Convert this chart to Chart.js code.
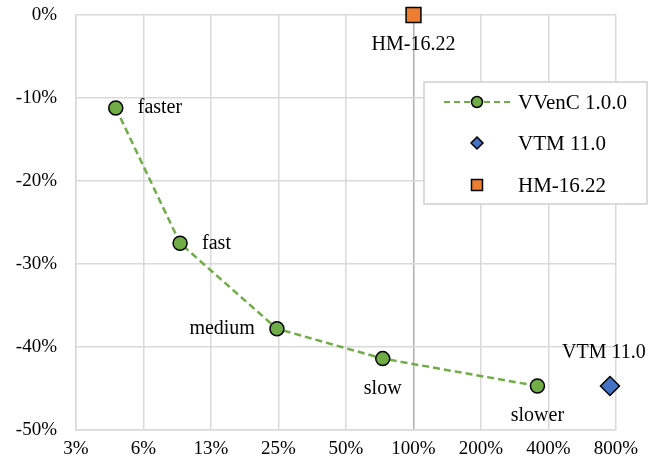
<!DOCTYPE html>
<html>
<head>
<meta charset="utf-8">
<script src="https://cdn.jsdelivr.net/npm/chart.js@4/dist/chart.umd.min.js"></script>
<style>
html,body{margin:0;padding:0;background:#fff;}
#wrap{width:672px;height:466px;}
</style>
</head>
<body>
<div id="wrap"><canvas id="rdChart"></canvas></div>
<script>
// DATA

const presets=["faster","fast","medium","slow","slower"];
const vvencTime=[4.7,9.1,24.6,72.9,357];
const vvencBD=[-11.2,-27.5,-37.8,-41.4,-44.7];

const vtmTime=[752];
const vtmBD=[-44.7];

const hmTime=[100];
const hmBD=[0];

const xTicks=[3.125,6.25,12.5,25,50,100,200,400,800];
const xTickLabels=["3%","6%","13%","25%","50%","100%","200%","400%","800%"];
const yTicks=[0,-10,-20,-30,-40,-50];

const FONT="'Liberation Serif','Times New Roman',serif";

// point labels: where the text sits next to each point
const labelPlace={
faster:"right",fast:"right",medium:"left",slow:"below",slower:"below",
"VTM 11.0":"above","HM-16.22":"below"
};

function pts(xs,ys){
return xs.map((x,i)=>({x:x,y:ys[i]}));
}

const pointLabels={
id:"pointLabels",
afterDatasetsDraw(chart){
const ctx=chart.ctx;
ctx.save();
ctx.font="20px "+FONT;
ctx.fillStyle="#000";
chart.data.datasets.forEach((ds,di)=>{
const meta=chart.getDatasetMeta(di);
meta.data.forEach((el,i)=>{
const txt=ds.pointNames[i];
const place=labelPlace[txt];
let x=el.x,y=el.y;
if(place==="right"){ctx.textAlign="left";ctx.textBaseline="middle";x+=22;}
else if(place==="left"){ctx.textAlign="right";ctx.textBaseline="middle";x-=22;}
else if(place==="below"){ctx.textAlign="center";ctx.textBaseline="middle";y+=30;}
else{ctx.textAlign="center";ctx.textBaseline="middle";y-=33;x-=6;}
ctx.fillText(txt,x,y);
});
});
ctx.restore();
}
};

const boxLegend={
id:"boxLegend",
afterDraw(chart){
const ctx=chart.ctx;
const a=chart.chartArea;
const bx=a.left+348,by=a.top+67,bw=223,bh=122;
ctx.save();
ctx.fillStyle="#fff";
ctx.fillRect(bx,by,bw,bh);
ctx.strokeStyle="#d0d0d0";
ctx.lineWidth=1.5;
ctx.strokeRect(bx,by,bw,bh);
const rows=[20,61,103];
chart.data.datasets.forEach((ds,i)=>{
const cy=by+rows[i];
const mx=bx+53;
if(ds.showLine){
ctx.save();
ctx.strokeStyle=ds.borderColor;
ctx.lineWidth=2;
ctx.setLineDash([6,4]);
ctx.beginPath();
ctx.moveTo(bx+20,cy);
ctx.lineTo(bx+88,cy);
ctx.stroke();
ctx.restore();
}
ctx.fillStyle=ds.pointBackgroundColor;
ctx.strokeStyle="#000";
ctx.lineWidth=1.5;
ctx.beginPath();
if(ds.pointStyle==="circle"){
ctx.arc(mx,cy,5.5,0,Math.PI*2);
}else if(ds.pointStyle==="rectRot"){
ctx.moveTo(mx,cy-6);ctx.lineTo(mx+6,cy);ctx.lineTo(mx,cy+6);ctx.lineTo(mx-6,cy);ctx.closePath();
}else{
ctx.rect(mx-5.5,cy-5.5,11,11);
}
ctx.fill();
ctx.stroke();
ctx.font="21px "+FONT;
ctx.fillStyle="#000";
ctx.textAlign="left";
ctx.textBaseline="middle";
ctx.fillText(ds.label,bx+94,cy+1);
});
ctx.restore();
}
};

// RD CHART

new Chart(document.getElementById("rdChart"),{

type:"scatter",

data:{

datasets:[{
label:"VVenC 1.0.0",
data:pts(vvencTime,vvencBD),
pointNames:presets,
showLine:true,
clip:false,
borderColor:"#70AD47",
borderWidth:2.5,
borderDash:[7,4],
pointStyle:"circle",
pointRadius:7,
pointBackgroundColor:"#70AD47",
pointBorderColor:"#000",
pointBorderWidth:1.5
},{
label:"VTM 11.0",
data:pts(vtmTime,vtmBD),
pointNames:["VTM 11.0"],
clip:false,
pointStyle:"rectRot",
pointRadius:9.5,
pointBackgroundColor:"#4472C4",
pointBorderColor:"#000",
pointBorderWidth:1.5
},{
label:"HM-16.22",
data:pts(hmTime,hmBD),
pointNames:["HM-16.22"],
clip:false,
pointStyle:"rect",
pointRadius:10.5,
pointBackgroundColor:"#ED7D31",
pointBorderColor:"#000",
pointBorderWidth:1.5
}]

},

options:{

responsive:true,
maintainAspectRatio:false,
animation:false,
layout:{autoPadding:false,padding:{top:15,right:56,left:0,bottom:0}},

plugins:{
legend:{display:false},
tooltip:{enabled:false}
},

scales:{
x:{
type:"logarithmic",
min:3.125,
max:800,
afterBuildTicks(scale){
scale.ticks=xTicks.map(v=>({value:v}));
},
afterFit(scale){scale.height=36;},
ticks:{
autoSkip:false,
maxRotation:0,
padding:8,
color:"#000",
font:{family:FONT,size:19},
callback:(v,i)=>xTickLabels[i]
},
grid:{
drawTicks:false,
lineWidth:1.5,
color:c=>(c.tick&&c.tick.value===100)?"#b0b0b0":"#d9d9d9"
},
border:{color:"#d9d9d9",width:1.5}
},
y:{
min:-50,
max:0,
afterBuildTicks(scale){
scale.ticks=yTicks.map(v=>({value:v}));
},
afterFit(scale){scale.width=76;},
ticks:{
padding:0,
color:"#000",
font:{family:FONT,size:19},
callback:v=>v+"%"
},
grid:{drawTicks:true,tickLength:19,tickColor:"rgba(0,0,0,0)",lineWidth:1.5,color:"#d9d9d9"},
border:{color:"#d9d9d9",width:1.5}
}
}

},

plugins:[pointLabels,boxLegend]

});
</script>
</body>
</html>
